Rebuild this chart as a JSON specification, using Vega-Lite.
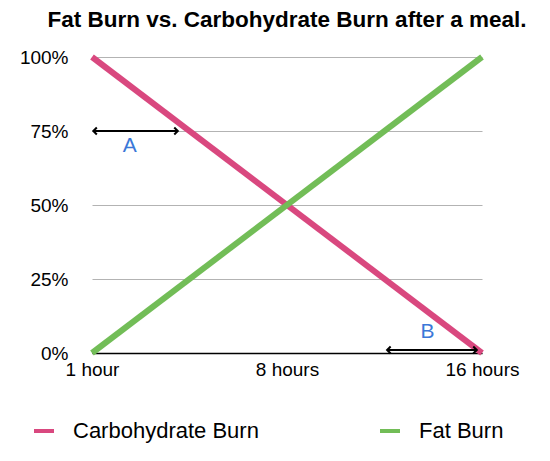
{
  "$schema": "https://vega.github.io/schema/vega-lite/v6.json",
  "width": 390,
  "height": 296,
  "autosize": {"type": "none"},
  "padding": {"left": 92, "top": 57, "right": 68, "bottom": 108},
  "background": "white",
  "config": {
    "font": "Liberation Sans",
    "view": {"stroke": null}
  },
  "title": {
    "text": "Fat Burn vs. Carbohydrate Burn after a meal.",
    "fontSize": 22.5,
    "fontWeight": "bold",
    "font": "Liberation Sans",
    "color": "black",
    "anchor": "middle",
    "offset": 14
  },
  "datasets": {
    "burn": [
      {"hour": 1, "pct": 100, "series": "Carbohydrate Burn"},
      {"hour": 16, "pct": 0, "series": "Carbohydrate Burn"},
      {"hour": 1, "pct": 0, "series": "Fat Burn"},
      {"hour": 16, "pct": 100, "series": "Fat Burn"}
    ],
    "arrows": [
      {"label": "A", "start": 1.05, "end": 4.3, "level": 75, "labelHour": 2.45, "labelLevel": 70},
      {"label": "B", "start": 12.35, "end": 15.8, "level": 1, "labelHour": 13.9, "labelLevel": 7}
    ]
  },
  "layer": [
    {
      "data": {"name": "burn"},
      "mark": {"type": "line", "strokeWidth": 6, "strokeCap": "butt"},
      "encoding": {
        "x": {
          "field": "hour",
          "type": "quantitative",
          "scale": {"domain": [1, 16], "nice": false, "zero": false},
          "axis": {
            "title": null,
            "values": [1, 8.5, 16],
            "labelExpr": "datum.value == 1 ? '1 hour' : datum.value == 16 ? '16 hours' : '8 hours'",
            "labelFontSize": 19,
            "labelColor": "black",
            "labelFlush": false,
            "labelPadding": 7,
            "ticks": false,
            "grid": false,
            "domainColor": "black",
            "domainWidth": 1.5
          }
        },
        "y": {
          "field": "pct",
          "type": "quantitative",
          "scale": {"domain": [0, 100]},
          "axis": {
            "title": null,
            "values": [0, 25, 50, 75, 100],
            "labelExpr": "datum.value + '%'",
            "labelFontSize": 19,
            "labelColor": "black",
            "labelPadding": 24,
            "ticks": false,
            "domain": false,
            "gridColor": "#b3b3b3",
            "gridWidth": 1.2
          }
        },
        "color": {
          "field": "series",
          "type": "nominal",
          "scale": {"domain": ["Carbohydrate Burn", "Fat Burn"], "range": ["#d9487f", "#72bd57"]},
          "legend": {
            "title": null,
            "orient": "none",
            "legendX": -60,
            "legendY": 362,
            "direction": "horizontal",
            "columns": 2,
            "columnPadding": 113,
            "symbolType": "stroke",
            "symbolSize": 400,
            "symbolStrokeWidth": 4,
            "symbolOffset": 0,
            "labelFontSize": 22,
            "labelColor": "black",
            "labelOffset": 17,
            "labelLimit": 0
          }
        },
        "order": {"field": "series", "sort": "descending"}
      }
    },
    {
      "data": {"name": "arrows"},
      "mark": {"type": "rule", "color": "black", "strokeWidth": 2},
      "encoding": {
        "x": {"field": "start", "type": "quantitative"},
        "x2": {"field": "end"},
        "y": {"field": "level", "type": "quantitative"}
      }
    },
    {
      "data": {"name": "arrows"},
      "mark": {"type": "point", "shape": "M1,-1L0,0L1,1", "filled": false, "stroke": "black", "strokeWidth": 2, "size": 50, "opacity": 1},
      "encoding": {
        "x": {"field": "start", "type": "quantitative"},
        "y": {"field": "level", "type": "quantitative"}
      }
    },
    {
      "data": {"name": "arrows"},
      "mark": {"type": "point", "shape": "M-1,-1L0,0L-1,1", "filled": false, "stroke": "black", "strokeWidth": 2, "size": 50, "opacity": 1},
      "encoding": {
        "x": {"field": "end", "type": "quantitative"},
        "y": {"field": "level", "type": "quantitative"}
      }
    },
    {
      "data": {"name": "arrows"},
      "mark": {"type": "text", "fontSize": 21, "color": "#3b78d8", "baseline": "middle", "align": "center"},
      "encoding": {
        "x": {"field": "labelHour", "type": "quantitative"},
        "y": {"field": "labelLevel", "type": "quantitative"},
        "text": {"field": "label"}
      }
    }
  ]
}
